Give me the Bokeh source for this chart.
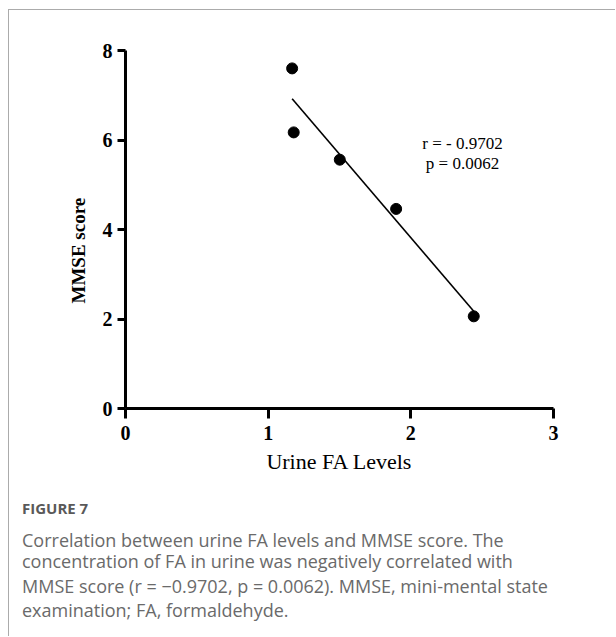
import numpy as np
from bokeh.plotting import figure
from bokeh.models import Range1d, FixedTicker, Label, Title
from bokeh.embed import file_html
from bokeh.resources import INLINE

# ---- data ----
urine_fa = [1.168, 1.179, 1.502, 1.897, 2.441]
mmse = [7.60, 6.17, 5.56, 4.46, 2.06]
x_ticks = [0, 1, 2, 3]
y_ticks = [0, 2, 4, 6, 8]
x_label = "Urine FA Levels"
y_label = "MMSE score"
stats_text = ["r = - 0.9702", "p = 0.0062"]
figure_title = "FIGURE 7"
caption_lines = [
    "Correlation between urine FA levels and MMSE score. The",
    "concentration of FA in urine was negatively correlated with",
    "MMSE score (r = \u22120.9702, p = 0.0062). MMSE, mini-mental state",
    "examination; FA, formaldehyde.",
]

# linear fit drawn over data range
slope, intercept = np.polyfit(urine_fa, mmse, 1)
fit_x = [min(urine_fa), max(urine_fa)]
fit_y = [slope * v + intercept for v in fit_x]

W, H = 606, 626
p = figure(width=W, height=H, output_backend="svg", toolbar_location=None,
           x_range=Range1d(0, 3), y_range=Range1d(0, 8),
           frame_width=428, frame_height=358,
           min_border_left=116, min_border_right=W - 116 - 428,
           min_border_top=40, min_border_bottom=H - 40 - 358)
p.styles = {"margin-left": "8px", "margin-top": "9px",
            "border-top": "1.5px solid #ababab", "border-left": "1.5px solid #ababab"}
p.outline_line_color = None
p.xgrid.visible = False
p.ygrid.visible = False
p.background_fill_color = "white"
p.border_fill_color = "white"

p.line(fit_x, fit_y, line_color="black", line_width=1.6)
p.scatter(urine_fa, mmse, size=11, fill_color="black", line_color="black")

serif = "Liberation Serif"
for ax in (p.xaxis[0], p.yaxis[0]):
    ax.axis_line_width = 3
    ax.axis_line_color = "black"
    ax.major_tick_line_width = 3
    ax.major_tick_line_color = "black"
    ax.major_tick_in = 0
    ax.minor_tick_line_color = None
    ax.major_label_text_font = serif
    ax.major_label_text_font_style = "bold"
    ax.major_label_text_font_size = "20px"
    ax.major_label_text_color = "black"
    ax.axis_label_text_font = serif
    ax.axis_label_text_color = "black"

p.xaxis.ticker = FixedTicker(ticks=x_ticks)
p.yaxis.ticker = FixedTicker(ticks=y_ticks)
p.xaxis.major_tick_out = 10
p.yaxis.major_tick_out = 8
p.xaxis.major_label_standoff = 7
p.yaxis.major_label_standoff = 5
p.xaxis.axis_label = x_label
p.xaxis.axis_label_text_font_size = "22px"
p.xaxis.axis_label_text_font_style = "normal"
p.xaxis.axis_label_standoff = 6

# y label as a left-panel title so it can sit lower than the frame centre
p.add_layout(Title(text=y_label, align="left", offset=105, standoff=21,
                   text_font=serif, text_font_size="19px", text_font_style="bold",
                   text_color="black"), "left")

# r / p annotation (screen units relative to frame bottom-left)
for i, t in enumerate(stats_text):
    p.add_layout(Label(x=337, y=265 - i * 20, x_units="screen", y_units="screen",
                       text=t, text_font=serif, text_font_size="17px",
                       text_color="black", text_align="center", text_baseline="middle"))

# caption below the chart
p.add_layout(Title(text=figure_title, align="left", offset=-103.5, standoff=39,
                   text_font="Open Sans", text_font_size="15px", text_font_style="bold",
                   text_color="#595959"), "below")
line_standoffs = [-24, 13.5, -15.5, 10.5]
for t, s in zip(caption_lines, line_standoffs):
    p.add_layout(Title(text=t, align="left", offset=-103.5, standoff=s,
                       text_font="Open Sans", text_font_size="18px",
                       text_font_style="normal", text_color="#6a6a6a"), "below")

open("out.html", "w").write(file_html(p, INLINE))
